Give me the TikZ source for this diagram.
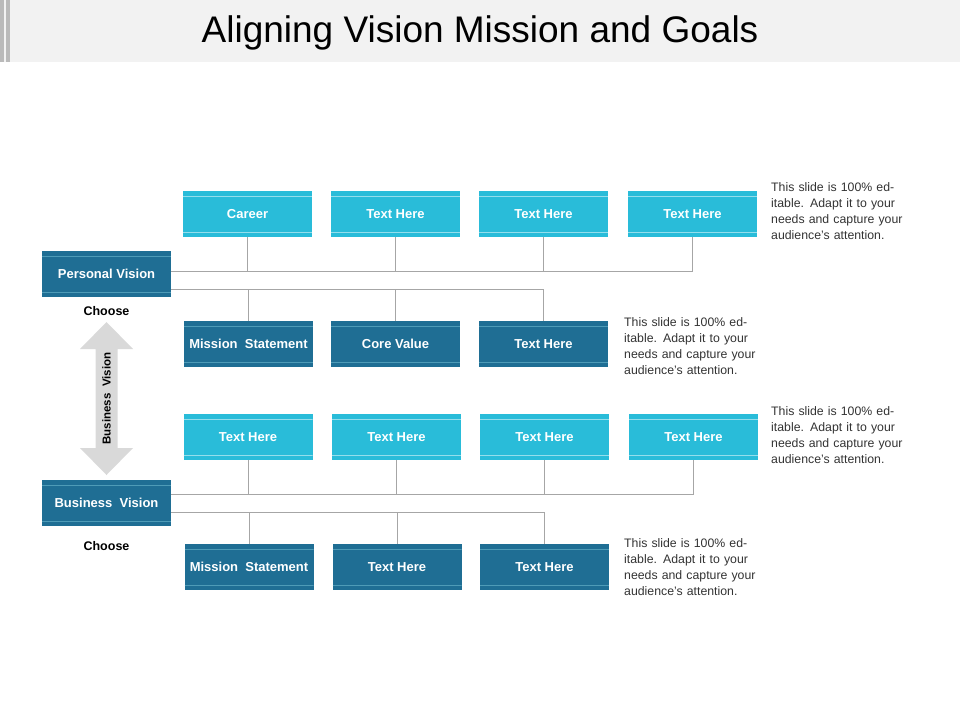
\documentclass[tikz,border=0pt]{standalone}
\usepackage{fontspec}
\setmainfont{Liberation Sans}
\usetikzlibrary{positioning, calc}
\definecolor{lightbox}{HTML}{29BCD9}
\definecolor{darkbox}{HTML}{1F6E94}
\definecolor{linkgray}{HTML}{A6A6A6}

\begin{document}
\begin{tikzpicture}[
    x=1pt, y=-1pt,
    % Styles
    box/.style={
        rectangle,
        minimum height=46pt,
        minimum width=129pt,
        inner sep=0pt,
        text=white,
        font=\bfseries\fontsize{13}{15}\selectfont
    },
    lightcell/.style={
        box,
        fill=lightbox,
        path picture={
            \draw[white!50!lightbox, line width=0.8pt]
                ([yshift=-5pt]path picture bounding box.north west) -- ([yshift=-5pt]path picture bounding box.north east)
                ([yshift=5pt]path picture bounding box.south west) -- ([yshift=5pt]path picture bounding box.south east);
        }
    },
    darkcell/.style={
        box,
        fill=darkbox,
        path picture={
            \draw[white!25!darkbox!80!lightbox, line width=0.8pt]
                ([yshift=-5pt]path picture bounding box.north west) -- ([yshift=-5pt]path picture bounding box.north east)
                ([yshift=5pt]path picture bounding box.south west) -- ([yshift=5pt]path picture bounding box.south east);
        }
    },
    link/.style={
        draw=linkgray,
        line width=0.8pt
    },
    note/.style={
        anchor=north west,
        align=left,
        inner sep=0pt,
        text width=150pt,
        font=\fontsize{12.3}{16}\selectfont,
        text=black!80
    },
    choose/.style={
        font=\bfseries\fontsize{12.5}{15}\selectfont
    }
]
    \useasboundingbox (0,0) rectangle (960,720);

    % Header
    \fill[black!5] (0,0) rectangle (960,62);
    \fill[black!27] (0,0) rectangle (4,62);
    \fill[black!27] (6,0) rectangle (10,62);
    \node (title) at (480,33) {\fontsize{37}{42}\selectfont Aligning Vision Mission and Goals};

    % Personal vision group
    \node[darkcell] (pv) at (106.5,274) {Personal Vision};
    \node[lightcell] (pa1) at (247.5,214) {Career};
    \node[lightcell] (pa2) at (395.5,214) {Text Here};
    \node[lightcell] (pa3) at (543.5,214) {Text Here};
    \node[lightcell] (pa4) at (692.5,214) {Text Here};
    \node[darkcell] (pb1) at (248.5,344) {Mission\ \ Statement};
    \node[darkcell] (pb2) at (395.5,344) {Core Value};
    \node[darkcell] (pb3) at (543.5,344) {Text Here};

    % Business vision group
    \node[darkcell] (bv) at (106.5,503) {Business\ \ Vision};
    \node[lightcell] (ba1) at (248,437) {Text Here};
    \node[lightcell] (ba2) at (396.5,437) {Text Here};
    \node[lightcell] (ba3) at (544.5,437) {Text Here};
    \node[lightcell] (ba4) at (693.5,437) {Text Here};
    \node[darkcell] (bb1) at (249,567) {Mission\ \ Statement};
    \node[darkcell] (bb2) at (397,567) {Text Here};
    \node[darkcell] (bb3) at (544.5,567) {Text Here};

    % Paths
    \coordinate (pup) at ([yshift=3pt]pv.east);
    \coordinate (pdown) at ([yshift=-15pt]pv.east);
    \draw[link] (pup) -- (pa4.south |- pup) -- (pa4.south);
    \foreach \n in {pa1, pa2, pa3}
        \draw[link] (\n.south) -- (\n.south |- pup);
    \draw[link] (pdown) -- (pb3.north |- pdown) -- (pb3.north);
    \foreach \n in {pb1, pb2}
        \draw[link] (\n.north |- pdown) -- (\n.north);

    \coordinate (bup) at ([yshift=9pt]bv.east);
    \coordinate (bdown) at ([yshift=-9pt]bv.east);
    \draw[link] (bup) -- (ba4.south |- bup) -- (ba4.south);
    \foreach \n in {ba1, ba2, ba3}
        \draw[link] (\n.south) -- (\n.south |- bup);
    \draw[link] (bdown) -- (bb3.north |- bdown) -- (bb3.north);
    \foreach \n in {bb1, bb2}
        \draw[link] (\n.north |- bdown) -- (\n.north);

    % Choose labels and arrow
    \node[choose, below=6pt of pv] (ch1) {Choose};
    \node[choose, below=12pt of bv] (ch2) {Choose};
    \fill[black!15] (106.5,322) -- (133,349) -- (117.5,349) -- (117.5,448)
        -- (133,448) -- (106.5,475) -- (80,448) -- (95.5,448) -- (95.5,349)
        -- (80,349) -- cycle;
    \node[rotate=90, font=\bfseries\fontsize{11.5}{13}\selectfont] (arrow) at (106.5,398.5)
        {Business\ \ Vision};

    % Notes
    \node[note] (n1) at (771,182) {This slide is 100\% editable. Adapt it to your needs and capture your audience's attention.};
    \node[note] (n2) at (624,317) {This slide is 100\% editable. Adapt it to your needs and capture your audience's attention.};
    \node[note] (n3) at (771,406) {This slide is 100\% editable. Adapt it to your needs and capture your audience's attention.};
    \node[note] (n4) at (624,538) {This slide is 100\% editable. Adapt it to your needs and capture your audience's attention.};
\end{tikzpicture}
\end{document}
